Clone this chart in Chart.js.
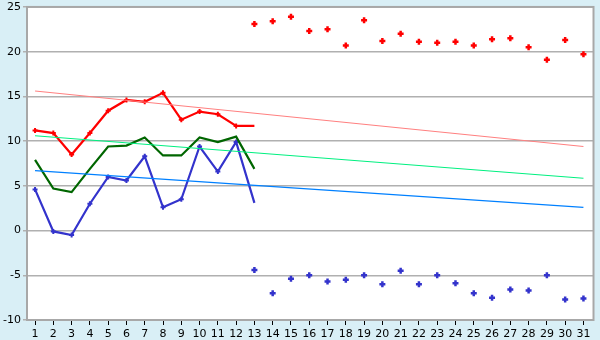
<!DOCTYPE html>
<html>
<head>
<meta charset="utf-8">
<script src="https://cdn.jsdelivr.net/npm/chart.js@4.4.1/dist/chart.umd.min.js"></script>
<style>
  html, body { margin: 0; padding: 0; background: #d9eff6; }
  #wrap { width: 600px; height: 340px; }
</style>
</head>
<body>
<div id="wrap"><canvas id="chart" width="600" height="340"></canvas></div>
<script>
// days of the month
const days = [1,2,3,4,5,6,7,8,9,10,11,12,13,14,15,16,17,18,19,20,21,22,23,24,25,26,27,28,29,30,31];
const yTicks = [-10, -5, 0, 5, 10, 15, 20, 25];

// measured, days 1-13
const maxLine = [11.2, 10.9, 8.5, 10.9, 13.4, 14.6, 14.4, 15.4, 12.4, 13.3, 13.0, 11.7, 11.7];
const avgLine = [7.9, 4.7, 4.3, 6.9, 9.4, 9.5, 10.4, 8.4, 8.4, 10.4, 9.9, 10.5, 6.9];
const minLine = [4.6, -0.1, -0.5, 3.0, 6.0, 5.6, 8.3, 2.6, 3.5, 9.4, 6.6, 9.9, 3.1];

// points, days 13-31
const maxPoints = [23.1, 23.4, 23.9, 22.3, 22.5, 20.7, 23.5, 21.2, 22.0, 21.1, 21.0, 21.1, 20.7, 21.4, 21.5, 20.5, 19.1, 21.3, 19.7];
const minPoints = [-4.4, -7.0, -5.4, -5.0, -5.7, -5.5, -5.0, -6.0, -4.5, -6.0, -5.0, -5.9, -7.0, -7.5, -6.6, -6.7, -5.0, -7.7, -7.6];

// trend lines, first and last day
const trendDays = [1, 31];
const maxTrend = [15.6, 9.4];
const avgTrend = [10.6, 5.85];
const minTrend = [6.7, 2.6];

function pairs(xs, ys) {
  return ys.map((y, i) => ({ x: xs[i], y: y }));
}
const lineDays = days.slice(0, 13);
const pointDays = days.slice(12);

const plotFrame = {
  id: "plotFrame",
  beforeDraw(chart) {
    const a = chart.chartArea, ctx = chart.ctx;
    ctx.save();
    ctx.fillStyle = "#ffffff";
    ctx.fillRect(a.left, a.top, a.right - a.left, a.bottom - a.top);
    ctx.restore();
  },
  afterDraw(chart) {
    const a = chart.chartArea, ctx = chart.ctx;
    ctx.save();
    ctx.strokeStyle = "#a8a8a8";
    ctx.lineWidth = 2;
    ctx.strokeRect(a.left, a.top, a.right - a.left, a.bottom - a.top);
    ctx.restore();
  }
};

// no marker on the last (partial) day of the lines
const lineMarker = {
  pointStyle: "cross",
  pointRadius: c => (c.dataIndex === lineDays.length - 1 ? 0 : 2.5),
  pointBorderWidth: 2
};
const dotMarker = { pointStyle: "cross", pointRadius: 3, pointBorderWidth: 2.5 };

new Chart(document.getElementById("chart"), {
  type: "line",
  data: {
    datasets: [
      { data: pairs(trendDays, maxTrend), borderColor: "#ff8080", borderWidth: 1.2, pointRadius: 0 },
      { data: pairs(trendDays, avgTrend), borderColor: "#00f080", borderWidth: 1.2, pointRadius: 0 },
      { data: pairs(trendDays, minTrend), borderColor: "#0080ff", borderWidth: 1.2, pointRadius: 0 },
      Object.assign({ data: pairs(lineDays, maxLine), borderColor: "#ff0000", borderWidth: 2.2 }, lineMarker),
      { data: pairs(lineDays, avgLine), borderColor: "#006600", borderWidth: 2.2, pointRadius: 0 },
      Object.assign({ data: pairs(lineDays, minLine), borderColor: "#3333cc", borderWidth: 2.2 }, lineMarker),
      Object.assign({ data: pairs(pointDays, maxPoints), borderColor: "#ff0000", showLine: false }, dotMarker),
      Object.assign({ data: pairs(pointDays, minPoints), borderColor: "#3333cc", showLine: false }, dotMarker)
    ]
  },
  options: {
    responsive: false,
    animation: false,
    layout: { padding: { top: 5, right: 5, left: 0, bottom: 0 } },
    plugins: { legend: { display: false }, tooltip: { enabled: false } },
    elements: { line: { tension: 0 } },
    scales: {
      x: {
        type: "linear",
        min: 0.56,
        max: 31.55,
        afterBuildTicks: s => { s.ticks = days.map(d => ({ value: d })); },
        afterFit: s => { s.height = 20; },
        grid: { drawOnChartArea: false, drawTicks: true, tickLength: 5, color: "#000000" },
        border: { display: false },
        ticks: { color: "#000000", font: { family: "DejaVu Sans", size: 11 }, padding: 3, maxRotation: 0, autoSkip: false }
      },
      y: {
        min: -10,
        max: 25,
        afterBuildTicks: s => { s.ticks = yTicks.map(v => ({ value: v })); },
        afterFit: s => { s.width = 27; },
        grid: { color: "#b0b0b0", lineWidth: 1.5, tickLength: 4 },
        border: { display: false },
        ticks: { color: "#000000", font: { family: "DejaVu Sans", size: 11, lineHeight: 0.9 }, padding: 2 }
      }
    }
  },
  plugins: [plotFrame]
});
</script>
</body>
</html>
